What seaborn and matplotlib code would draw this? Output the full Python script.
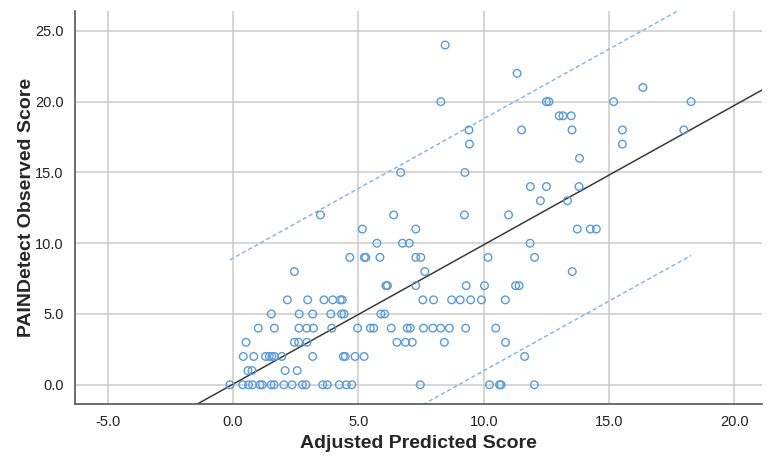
import numpy as np
import pandas as pd
import matplotlib
matplotlib.use("Agg")
import matplotlib.pyplot as plt
import seaborn as sns

# Observed score levels and predicted scores
obs_levels = [0, 1, 2, 3, 4, 5, 6, 7, 8, 9, 10, 11, 12, 13, 14, 15, 16, 17, 18, 19, 20, 21, 22, 24]
pred_by_level = [
    [-0.12, 0.39, 0.62, 0.78, 1.08, 1.17, 1.52, 1.64, 2.03, 2.36, 2.77, 2.91, 3.58, 3.76,
     4.24, 4.52, 4.74, 7.47, 10.23, 10.63, 10.69, 12.02],
    [0.60, 0.76, 2.08, 2.56],
    [0.41, 0.83, 1.30, 1.45, 1.55, 1.65, 1.95, 3.18, 4.40, 4.48, 4.87, 5.23, 11.63],
    [0.52, 2.45, 2.62, 2.95, 6.54, 6.88, 7.15, 8.43, 10.87],
    [1.01, 1.65, 2.63, 2.94, 3.21, 3.94, 4.97, 5.48, 5.61, 6.31, 6.95, 7.07, 7.60, 7.97,
     8.28, 8.63, 9.28, 10.48],
    [1.53, 2.64, 3.18, 3.90, 4.33, 4.43, 5.90, 6.05],
    [2.17, 2.98, 3.63, 3.98, 4.28, 4.36, 7.57, 8.00, 8.72, 9.06, 9.48, 9.91, 10.86],
    [6.10, 6.16, 7.29, 9.30, 10.03, 11.27, 11.41],
    [2.45, 7.65, 13.53],
    [4.66, 5.24, 5.30, 5.86, 7.29, 7.49, 10.17, 12.03],
    [5.74, 6.76, 7.03, 11.85],
    [5.16, 7.29, 13.73, 14.25, 14.49],
    [3.49, 6.41, 9.23, 10.99],
    [12.26, 13.34],
    [11.86, 12.50, 13.80],
    [6.69, 9.25],
    [13.82],
    [9.43, 15.53],
    [9.41, 11.51, 13.52, 15.53, 17.98],
    [13.01, 13.16, 13.49],
    [8.29, 12.50, 12.60, 15.18, 18.27],
    [16.35],
    [11.33],
    [8.46],
]

# fit line and prediction band
fit_intercept = 0.04
fit_slope = 0.985
band_half_width = 8.9

x_ticks = [-5, 0, 5, 10, 15, 20]
y_ticks = [0, 5, 10, 15, 20, 25]

rows = []
for level, preds in zip(obs_levels, pred_by_level):
    for p in preds:
        rows.append({"predicted": p, "observed": level})
df = pd.DataFrame(rows)

sns.set_style("white")
plt.rcParams["font.family"] = ["Liberation Sans", "DejaVu Sans"]

fig = plt.figure(figsize=(7.69, 4.61), dpi=100)
ax = fig.add_axes([0.0975, 0.1236, 0.8935, 0.8524])

point_color = "#5b9bd5"
band_color = "#7fb3e0"

sns.scatterplot(data=df, x="predicted", y="observed", ax=ax, marker="o", s=30,
                facecolor="none", edgecolor=point_color, linewidth=1.0, zorder=3)

# fitted line across the whole plot
ax.axline((0, fit_intercept), slope=fit_slope, color="#3a3a3a", lw=1.1, zorder=2)

# prediction interval over the data range
xs = np.array([df["predicted"].min(), df["predicted"].max()])
fit_vals = fit_intercept + fit_slope * xs
ax.plot(xs, fit_vals + band_half_width, ls=(0, (3, 2)), color=band_color, lw=1.0, zorder=2)
ax.plot(xs, fit_vals - band_half_width, ls=(0, (3, 2)), color=band_color, lw=1.0, zorder=2)

ax.set_xlim(-6.3, 21.1)
ax.set_ylim(-1.36, 26.4)
ax.set_xticks(x_ticks)
ax.set_yticks(y_ticks)
ax.set_xticklabels([f"{t:.1f}" for t in x_ticks])
ax.set_yticklabels([f"{t:.1f}" for t in y_ticks])
ax.grid(True, color="#cccccc", lw=1.1)
ax.set_axisbelow(True)
ax.tick_params(axis="both", labelsize=10.5, colors="#222222", length=0, pad=8)

for side in ["top", "right"]:
    ax.spines[side].set_visible(False)
for side in ["left", "bottom"]:
    ax.spines[side].set_color("#555555")
    ax.spines[side].set_linewidth(1.2)

ax.set_xlabel("Adjusted Predicted Score", fontsize=14, fontweight="bold", labelpad=4)
ax.set_ylabel("PAINDetect Observed Score", fontsize=14, fontweight="bold", labelpad=0)

fig.savefig("out.png", dpi=100)
